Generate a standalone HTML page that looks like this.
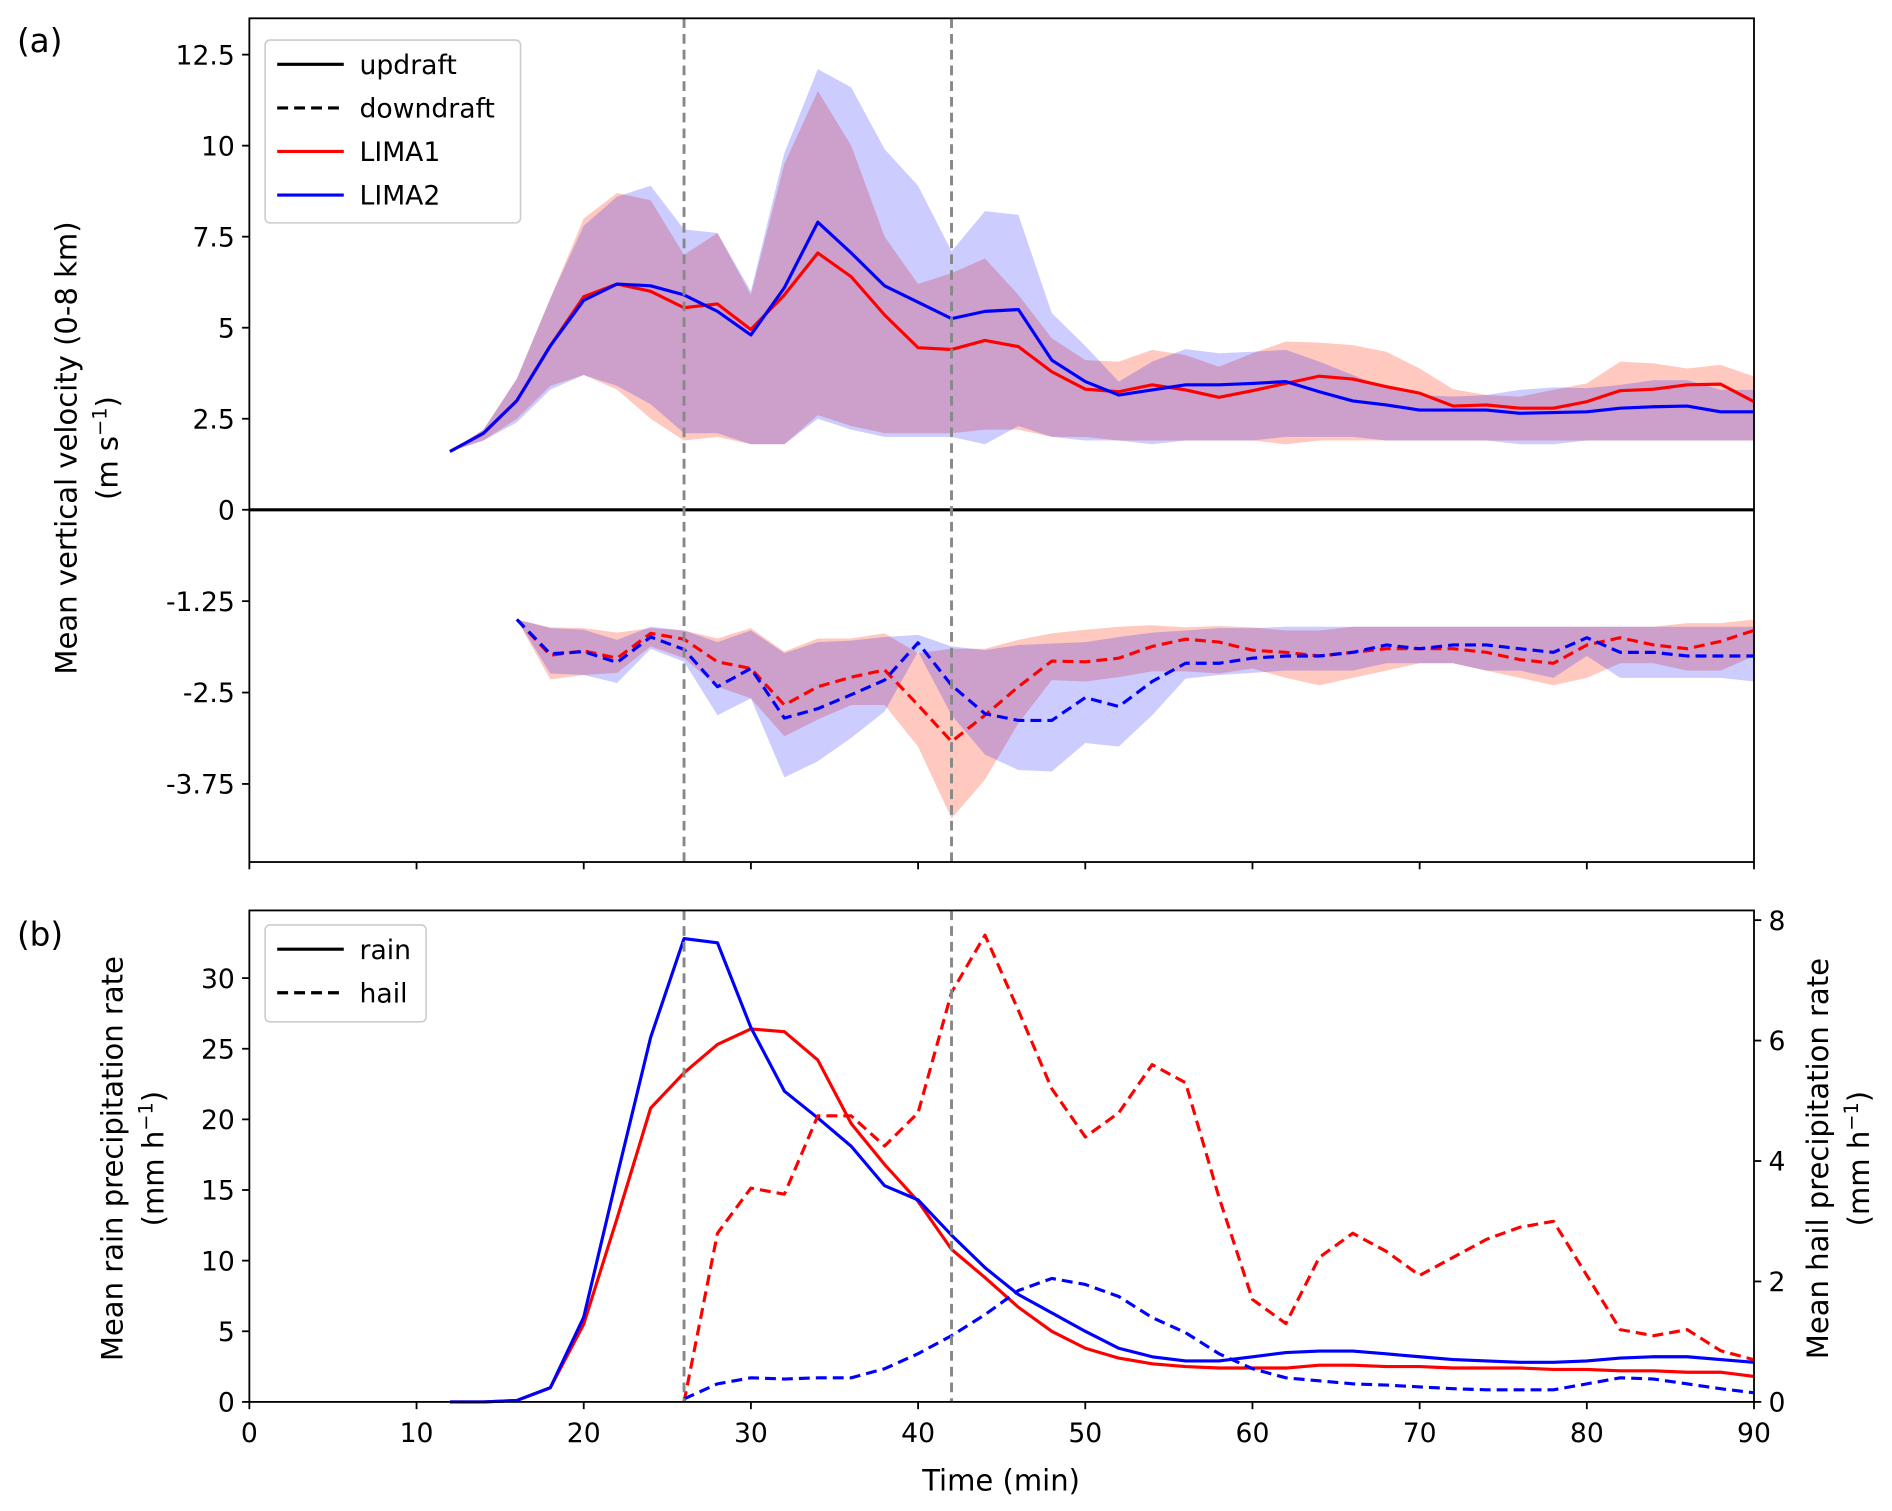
<!DOCTYPE html>
<html><head><meta charset="utf-8"><style>
html,body{margin:0;padding:0;background:#fff}
svg{display:block;font-family:"DejaVu Sans","Liberation Sans",sans-serif}
</style></head><body>
<svg id="chart" width="1892" height="1511" viewBox="0 0 1563 1248" xmlns="http://www.w3.org/2000/svg"></svg>
<script>
const upRed=[1.6,2.1,3.0,4.5,5.85,6.2,6.0,5.55,5.65,4.95,5.9,7.05,6.4,5.35,4.45,4.4,4.65,4.48,3.79,3.31,3.24,3.43,3.29,3.09,3.27,3.47,3.67,3.59,3.38,3.2,2.85,2.88,2.79,2.79,2.97,3.27,3.31,3.43,3.45,2.97];
const upBlue=[1.6,2.1,3.0,4.5,5.75,6.2,6.15,5.9,5.45,4.8,6.1,7.9,7.05,6.15,5.7,5.25,5.45,5.5,4.11,3.52,3.15,3.29,3.43,3.43,3.47,3.52,3.24,2.99,2.88,2.74,2.74,2.74,2.65,2.67,2.69,2.79,2.83,2.85,2.69,2.69];
const upRedHi=[1.6,2.2,3.6,5.8,8.0,8.7,8.5,7.0,7.6,5.9,9.5,11.5,10.0,7.5,6.2,6.5,6.9,5.9,4.71,4.11,4.07,4.39,4.25,3.93,4.3,4.62,4.59,4.52,4.34,3.88,3.31,3.15,3.11,3.29,3.47,4.07,4.02,3.88,3.98,3.66];
const upRedLo=[1.6,1.9,2.5,3.4,3.7,3.3,2.5,1.9,2.0,1.8,1.8,2.6,2.3,2.1,2.1,2.1,2.2,2.2,2.0,2.0,1.9,1.9,1.9,1.9,1.9,1.8,1.9,1.9,1.9,1.9,1.9,1.9,1.9,1.9,1.9,1.9,1.9,1.9,1.9,1.9];
const upBlueHi=[1.6,2.2,3.6,5.8,7.8,8.6,8.9,7.7,7.6,6.0,9.8,12.1,11.6,9.9,8.9,7.1,8.2,8.1,5.4,4.5,3.52,4.07,4.41,4.3,4.34,4.39,4.07,3.7,3.34,3.15,3.11,3.15,3.29,3.36,3.34,3.43,3.56,3.56,3.29,3.29];
const upBlueLo=[1.6,1.9,2.4,3.3,3.7,3.4,2.9,2.1,2.1,1.8,1.8,2.5,2.2,2.0,2.0,2.0,1.8,2.3,2.0,1.9,1.9,1.8,1.9,1.9,1.9,2.0,2.0,2.0,1.9,1.9,1.9,1.9,1.8,1.8,1.9,1.9,1.9,1.9,1.9,1.9];
const dnRed=[-1.5,-1.99,-1.93,-2.03,-1.69,-1.77,-2.08,-2.17,-2.67,-2.42,-2.29,-2.19,-2.67,-3.17,-2.81,-2.42,-2.07,-2.08,-2.03,-1.87,-1.77,-1.81,-1.92,-1.95,-2.0,-1.95,-1.9,-1.9,-1.9,-1.95,-2.05,-2.1,-1.85,-1.75,-1.85,-1.9,-1.8,-1.65];
const dnBlue=[-1.5,-1.97,-1.94,-2.09,-1.74,-1.91,-2.42,-2.17,-2.85,-2.72,-2.53,-2.33,-1.82,-2.40,-2.79,-2.88,-2.88,-2.57,-2.69,-2.35,-2.10,-2.10,-2.03,-2.0,-2.0,-1.95,-1.85,-1.9,-1.85,-1.85,-1.9,-1.95,-1.75,-1.95,-1.95,-2.0,-2.0,-2.0];
const dnRedHi=[-1.5,-1.61,-1.62,-1.68,-1.62,-1.65,-1.76,-1.62,-1.94,-1.76,-1.76,-1.69,-1.96,-1.90,-1.90,-1.78,-1.69,-1.64,-1.60,-1.58,-1.61,-1.59,-1.61,-1.65,-1.65,-1.6,-1.6,-1.6,-1.6,-1.6,-1.6,-1.6,-1.6,-1.6,-1.6,-1.55,-1.55,-1.5];
const dnRedLo=[-1.5,-2.32,-2.26,-2.23,-1.87,-2.03,-2.42,-2.58,-3.10,-2.87,-2.67,-2.67,-3.24,-4.22,-3.69,-2.92,-2.33,-2.35,-2.29,-2.21,-2.21,-2.24,-2.17,-2.3,-2.4,-2.3,-2.2,-2.1,-2.1,-2.2,-2.3,-2.4,-2.3,-2.1,-2.1,-2.2,-2.2,-2.0];
const dnBlueHi=[-1.5,-1.62,-1.64,-1.78,-1.60,-1.65,-1.81,-1.65,-1.96,-1.81,-1.79,-1.74,-1.71,-1.87,-1.92,-1.85,-1.83,-1.81,-1.74,-1.68,-1.65,-1.62,-1.62,-1.6,-1.6,-1.6,-1.6,-1.6,-1.6,-1.6,-1.6,-1.6,-1.6,-1.6,-1.6,-1.6,-1.6,-1.6];
const dnBlueLo=[-1.5,-2.24,-2.26,-2.37,-1.90,-2.08,-2.81,-2.58,-3.66,-3.44,-3.12,-2.76,-1.94,-2.81,-3.35,-3.56,-3.58,-3.19,-3.24,-2.81,-2.31,-2.26,-2.23,-2.2,-2.2,-2.2,-2.1,-2.1,-2.1,-2.2,-2.2,-2.3,-2.0,-2.3,-2.3,-2.3,-2.3,-2.35];
const rainRed=[0,0,0.1,1,5.5,13,20.8,23.3,25.3,26.4,26.2,24.2,19.7,16.8,14.2,10.8,8.8,6.7,5.0,3.8,3.1,2.7,2.5,2.4,2.4,2.4,2.6,2.6,2.5,2.5,2.4,2.4,2.4,2.3,2.3,2.2,2.2,2.1,2.1,1.8];
const rainBlue=[0,0,0.1,1,6,16,25.8,32.8,32.5,26.5,22.0,20.1,18.1,15.3,14.3,11.8,9.5,7.6,6.3,5.0,3.8,3.2,2.9,2.9,3.2,3.5,3.6,3.6,3.4,3.2,3.0,2.9,2.8,2.8,2.9,3.1,3.2,3.2,3.0,2.8];
const hailRed=[0,2.8,3.55,3.45,4.75,4.75,4.25,4.8,6.8,7.75,6.5,5.2,4.4,4.8,5.6,5.3,3.4,1.7,1.3,2.4,2.8,2.5,2.1,2.4,2.7,2.9,3.0,2.1,1.2,1.1,1.2,0.85,0.7];
const hailBlue=[0.05,0.3,0.4,0.38,0.4,0.4,0.55,0.8,1.1,1.45,1.85,2.05,1.95,1.75,1.4,1.15,0.8,0.55,0.4,0.35,0.3,0.28,0.25,0.22,0.2,0.2,0.2,0.3,0.4,0.38,0.3,0.22,0.15];
const xTicks=[0,10,20,30,40,50,60,70,80,90];
const aTicks=[12.5,10,7.5,5,2.5,0,-1.25,-2.5,-3.75];
const aTickLabels=["12.5","10","7.5","5","2.5","0","-1.25","-2.5","-3.75"];
const bLeftTicks=[0,5,10,15,20,25,30];
const bRightTicks=[0,2,4,6,8];
const vLines=[26,42];

const NS="http://www.w3.org/2000/svg";
const svg=document.getElementById('chart');
function mk(tag,attrs,parent){const e=document.createElementNS(NS,tag);for(const k in attrs)e.setAttribute(k,attrs[k]);(parent||svg).appendChild(e);return e;}
const L=206,R=1449,aT=15,aB=712,bT=752,bB=1158;
const X=t=>L+(R-L)*t/90;
const Ya=v=>v>=0?421-v*30.08:421-v*60.4;
const Yb=v=>bB-v*11.67;
const Yr=v=>bB-v*49.75;
function pts(arr,t0,yf){return arr.map((v,i)=>X(t0+2*i).toFixed(1)+','+yf(v).toFixed(1)).join(' ');}
function band(hi,lo,t0,yf,col,name){
  const p=pts(hi,t0,yf)+' '+lo.map((v,i)=>[X(t0+2*i),yf(v)]).reverse().map(q=>q[0].toFixed(1)+','+q[1].toFixed(1)).join(' ');
  const e=mk('polygon',{points:p,fill:col,stroke:'none'});
  
  
}
function line(arr,t0,yf,col,dash,name){
  const e=mk('polyline',{points:pts(arr,t0,yf),fill:'none',stroke:col,'stroke-width':2.6,'stroke-dasharray':dash||'none','stroke-linejoin':'round'});
  
  
}
function text(x,y,s,attrs,name){const e=mk('text',Object.assign({x:x,y:y,'font-size':22,fill:'#000'},attrs||{}));e.textContent=s;return e;}

band(upRedHi,upRedLo,12,Ya,'rgba(255,40,0,0.25)','updraft-lima1-band');
band(upBlueHi,upBlueLo,12,Ya,'rgba(0,0,255,0.2)','updraft-lima2-band');
band(dnRedHi,dnRedLo,16,Ya,'rgba(255,40,0,0.25)','downdraft-lima1-band');
band(dnBlueHi,dnBlueLo,16,Ya,'rgba(0,0,255,0.2)','downdraft-lima2-band');
line(upRed,12,Ya,'#f00',null,'updraft-lima1-line');
line(upBlue,12,Ya,'#00f',null,'updraft-lima2-line');
line(dnRed,16,Ya,'#f00','9 5','downdraft-lima1-line');
line(dnBlue,16,Ya,'#00f','9 5','downdraft-lima2-line');
let z=mk('line',{x1:L,x2:R,y1:Ya(0),y2:Ya(0),stroke:'#000','stroke-width':2.6});

line(rainRed,12,Yb,'#f00',null,'rain-lima1-line');
line(rainBlue,12,Yb,'#00f',null,'rain-lima2-line');
line(hailRed,26,Yr,'#f00','9 5','hail-lima1-line');
line(hailBlue,26,Yr,'#00f','9 5','hail-lima2-line');
vLines.forEach(t=>{[[aT,aB],[bT,bB]].forEach(([a,b])=>{
  const e=mk('line',{x1:X(t),x2:X(t),y1:a,y2:b,stroke:'#888','stroke-width':2.4,'stroke-dasharray':'8 5'});
  });});
let f1=mk('rect',{x:L,y:aT,width:R-L,height:aB-aT,fill:'none',stroke:'#000','stroke-width':1.5});

let f2=mk('rect',{x:L,y:bT,width:R-L,height:bB-bT,fill:'none',stroke:'#000','stroke-width':1.5});

xTicks.forEach(t=>{
  mk('line',{x1:X(t),x2:X(t),y1:aB,y2:aB+6,stroke:'#000','stroke-width':1.5});
  mk('line',{x1:X(t),x2:X(t),y1:bB,y2:bB+6,stroke:'#000','stroke-width':1.5});
  text(X(t),bB+33,String(t),{'text-anchor':'middle'},'x-tick-label');
});
aTicks.forEach((v,i)=>{
  mk('line',{x1:L-6,x2:L,y1:Ya(v),y2:Ya(v),stroke:'#000','stroke-width':1.5});
  text(L-12,Ya(v)+8,aTickLabels[i],{'text-anchor':'end'},'y-tick-label');
});
bLeftTicks.forEach(v=>{
  mk('line',{x1:L-6,x2:L,y1:Yb(v),y2:Yb(v),stroke:'#000','stroke-width':1.5});
  text(L-12,Yb(v)+8,String(v),{'text-anchor':'end'},'left-y-tick-label');
});
bRightTicks.forEach(v=>{
  mk('line',{x1:R,x2:R+6,y1:Yr(v),y2:Yr(v),stroke:'#000','stroke-width':1.5});
  text(R+12,Yr(v)+8,String(v),{'text-anchor':'start'},'right-y-tick-label');
});
text(14,43,'(a)',{'font-size':27},'panel-a-label');
text(14,781,'(b)',{'font-size':27},'panel-b-label');
text(827,1231,'Time (min)',{'text-anchor':'middle','font-size':24},'x-axis-title');
text(0,0,'Mean vertical velocity (0-8 km)',{'text-anchor':'middle','font-size':24,transform:'translate(63,370) rotate(-90)'},'y-axis-title-a');
let t1=text(0,0,'(m s',{'text-anchor':'middle','font-size':24,transform:'translate(97,370) rotate(-90)'},'y-axis-units-a');
let ts=mk('tspan',{'font-size':16,dy:-9},t1);ts.textContent='−1';let ts2=mk('tspan',{dy:9},t1);ts2.textContent=')';
text(0,0,'Mean rain precipitation rate',{'text-anchor':'middle','font-size':24,transform:'translate(101,957) rotate(-90)'},'y-axis-title-b-left');
let t2=text(0,0,'(mm h',{'text-anchor':'middle','font-size':24,transform:'translate(135,957) rotate(-90)'},'y-axis-units-b-left');
ts=mk('tspan',{'font-size':16,dy:-9},t2);ts.textContent='−1';ts2=mk('tspan',{dy:9},t2);ts2.textContent=')';
text(0,0,'Mean hail precipitation rate',{'text-anchor':'middle','font-size':24,transform:'translate(1510,957) rotate(-90)'},'y-axis-title-b-right');
let t3=text(0,0,'(mm h',{'text-anchor':'middle','font-size':24,transform:'translate(1544,957) rotate(-90)'},'y-axis-units-b-right');
ts=mk('tspan',{'font-size':16,dy:-9},t3);ts.textContent='−1';ts2=mk('tspan',{dy:9},t3);ts2.textContent=')';
function legend(x,y,w,h,items,name){
  const g=mk('g',{});
  mk('rect',{x:x,y:y,width:w,height:h,rx:4,fill:'rgba(255,255,255,0.85)',stroke:'#ccc','stroke-width':1.3},g);
  items.forEach((it,i)=>{const yy=y+20+i*36;
    mk('line',{x1:x+10,x2:x+65,y1:yy,y2:yy,stroke:it[1],'stroke-width':2.6,'stroke-dasharray':it[2]?'9 5':'none'},g);
    const e=mk('text',{x:x+78,y:yy+8,'font-size':22},g);e.textContent=it[0];
    });
}
legend(219,33,211,151,[['updraft','#000',0],['downdraft','#000',1],['LIMA1','#f00',0],['LIMA2','#00f',0]],'legend-a');
legend(219,764,133,80,[['rain','#000',0],['hail','#000',1]],'legend-b');
</script>
</body></html>
